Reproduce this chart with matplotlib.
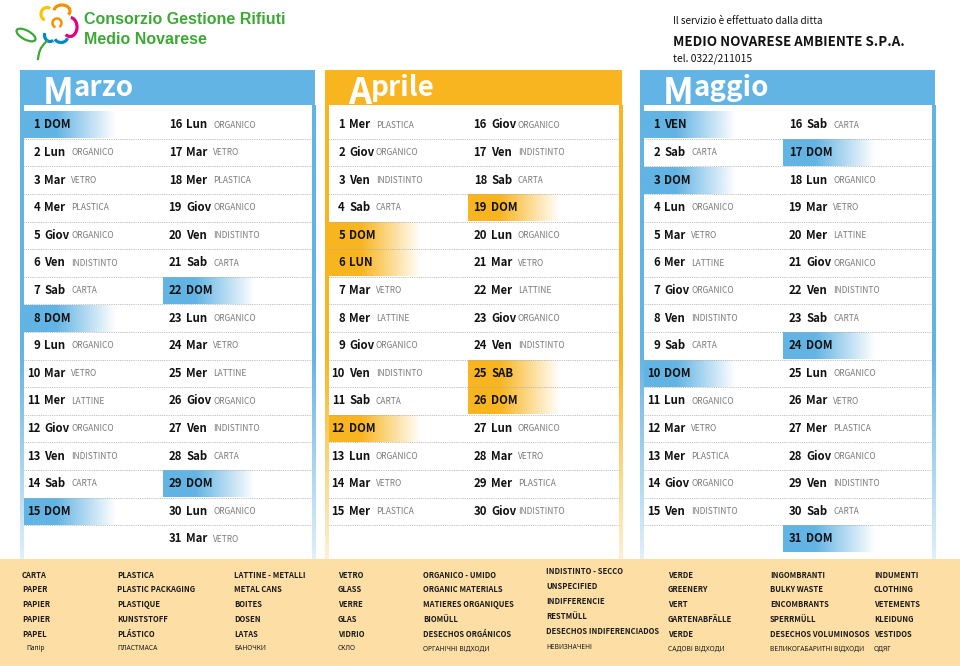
import matplotlib

matplotlib.use("Agg")
import matplotlib.pyplot as plt
import numpy as np
from matplotlib.patches import Rectangle, Arc, Ellipse
from matplotlib.colors import to_rgb

# ---- data ---------------------------------------------------------------
month_names = ["Marzo", "Aprile", "Maggio"]

marzo_days = ["DOM", "Lun", "Mar", "Mer", "Giov", "Ven", "Sab", "DOM", "Lun", "Mar",
              "Mer", "Giov", "Ven", "Sab", "DOM", "Lun", "Mar", "Mer", "Giov", "Ven",
              "Sab", "DOM", "Lun", "Mar", "Mer", "Giov", "Ven", "Sab", "DOM", "Lun", "Mar"]
marzo_waste = ["", "ORGANICO", "VETRO", "PLASTICA", "ORGANICO", "INDISTINTO", "CARTA", "",
               "ORGANICO", "VETRO", "LATTINE", "ORGANICO", "INDISTINTO", "CARTA", "",
               "ORGANICO", "VETRO", "PLASTICA", "ORGANICO", "INDISTINTO", "CARTA", "",
               "ORGANICO", "VETRO", "LATTINE", "ORGANICO", "INDISTINTO", "CARTA", "",
               "ORGANICO", "VETRO"]

aprile_days = ["Mer", "Giov", "Ven", "Sab", "DOM", "LUN", "Mar", "Mer", "Giov", "Ven",
               "Sab", "DOM", "Lun", "Mar", "Mer", "Giov", "Ven", "Sab", "DOM", "Lun",
               "Mar", "Mer", "Giov", "Ven", "SAB", "DOM", "Lun", "Mar", "Mer", "Giov"]
aprile_waste = ["PLASTICA", "ORGANICO", "INDISTINTO", "CARTA", "", "", "VETRO", "LATTINE",
                "ORGANICO", "INDISTINTO", "CARTA", "", "ORGANICO", "VETRO", "PLASTICA",
                "ORGANICO", "INDISTINTO", "CARTA", "", "ORGANICO", "VETRO", "LATTINE",
                "ORGANICO", "INDISTINTO", "", "", "ORGANICO", "VETRO", "PLASTICA",
                "INDISTINTO"]

maggio_days = ["VEN", "Sab", "DOM", "Lun", "Mar", "Mer", "Giov", "Ven", "Sab", "DOM",
               "Lun", "Mar", "Mer", "Giov", "Ven", "Sab", "DOM", "Lun", "Mar", "Mer",
               "Giov", "Ven", "Sab", "DOM", "Lun", "Mar", "Mer", "Giov", "Ven", "Sab", "DOM"]
maggio_waste = ["", "CARTA", "", "ORGANICO", "VETRO", "LATTINE", "ORGANICO", "INDISTINTO",
                "CARTA", "", "ORGANICO", "VETRO", "PLASTICA", "ORGANICO", "INDISTINTO",
                "CARTA", "", "ORGANICO", "VETRO", "LATTINE", "ORGANICO", "INDISTINTO",
                "CARTA", "", "ORGANICO", "VETRO", "PLASTICA", "ORGANICO", "INDISTINTO",
                "CARTA", ""]

legend_columns = [
    ["CARTA", "PAPER", "PAPIER", "PAPIER", "PAPEL"],
    ["PLASTICA", "PLASTIC PACKAGING", "PLASTIQUE", "KUNSTSTOFF", "PLÁSTICO"],
    ["LATTINE - METALLI", "METAL CANS", "BOITES", "DOSEN", "LATAS"],
    ["VETRO", "GLASS", "VERRE", "GLAS", "VIDRIO"],
    ["ORGANICO - UMIDO", "ORGANIC MATERIALS", "MATIERES ORGANIQUES", "BIOMÜLL", "DESECHOS ORGÁNICOS"],
    ["INDISTINTO - SECCO", "UNSPECIFIED", "INDIFFERENCIE", "RESTMÜLL", "DESECHOS INDIFERENCIADOS"],
    ["VERDE", "GREENERY", "VERT", "GARTENABFÄLLE", "VERDE"],
    ["INGOMBRANTI", "BULKY WASTE", "ENCOMBRANTS", "SPERRMÜLL", "DESECHOS VOLUMINOSOS"],
    ["INDUMENTI", "CLOTHING", "VETEMENTS", "KLEIDUNG", "VESTIDOS"],
]
legend_ukr = ["Папір", "ПЛАСТМАСА", "БАНОЧКИ", "СКЛО", "ОРГАНІЧНІ ВІДХОДИ", "НЕВИЗНАЧЕНІ",
              "САДОВІ ВІДХОДИ", "ВЕЛИКОГАБАРИТНІ ВІДХОДИ", "ОДЯГ"]

# ---- styles -------------------------------------------------------------
BLUE = "#62b4e4"
ORANGE = "#f9b520"
PEACH = "#fddfa6"
GREEN = "#3da935"
COND = ["Noto Sans CJK SC", "DejaVu Sans"]
ROUND = ["Noto Sans", "DejaVu Sans"]

fig = plt.figure(figsize=(9.6, 6.66), dpi=100)
ax = fig.add_axes([0, 0, 1, 1])
ax.set_xlim(0, 960)
ax.set_ylim(666, 0)
ax.axis("off")
renderer = fig.canvas.get_renderer()


def hgrad(x0, x1, y0, y1, color, solid=0.35):
    t = np.linspace(0, 1, 200)
    a = np.clip((1 - t) / (1 - solid), 0, 1)
    img = np.zeros((1, 200, 4))
    img[..., :3] = to_rgb(color)
    img[0, :, 3] = a
    ax.imshow(img, extent=(x0, x1, y1, y0), aspect="auto", interpolation="bilinear", zorder=2)


def vgrad(x0, x1, y0, y1, color):
    t = np.linspace(0, 1, 200)
    a = np.clip(1.0 - 0.8 * np.clip((t - 0.55) / 0.45, 0, 1), 0, 1)
    img = np.zeros((200, 1, 4))
    img[..., :3] = to_rgb(color)
    img[:, 0, 3] = a
    ax.imshow(img, extent=(x0, x1, y1, y0), aspect="auto", interpolation="bilinear", zorder=1)


panels = [
    (20, 315, BLUE, marzo_days, marzo_waste),
    (325, 622, ORANGE, aprile_days, aprile_waste),
    (640, 935, BLUE, maggio_days, maggio_waste),
]
top, head_bot, bottom = 70, 105, 559
row0, step = 125, 27.6
side = 3.5

for name, (x0, x1, col, days, waste) in zip(month_names, panels):
    # header band and fading side borders
    ax.add_patch(Rectangle((x0, top), x1 - x0, head_bot - top, color=col, lw=0, zorder=1))
    vgrad(x0, x0 + side, head_bot, bottom, col)
    vgrad(x1 - side, x1, head_bot, bottom, col)
    big = ax.text(x0 + 23, 104, name[0], color="white", fontsize=26, fontweight="bold",
                  family=COND, ha="left", va="baseline", zorder=5)
    bb = big.get_window_extent(renderer).transformed(ax.transData.inverted())
    ax.text(max(bb.x0, bb.x1) - 0.5, 96, name[1:], color="white", fontsize=20,
            fontweight="bold", family=COND, ha="left", va="baseline", zorder=5)

    inner0, inner1 = x0 + side, x1 - side
    split = x0 + 143
    for i in range(15):
        ys = row0 + step * (i + 0.5)
        ax.plot([inner0, inner1], [ys, ys], color="#aaaaaa", lw=0.6, ls=(0, (1, 1.2)), zorder=3)

    for d, (dn, w) in enumerate(zip(days, waste), start=1):
        idx = (d - 1) % 15 if d <= 15 else d - 16
        right = d > 15
        y = row0 + step * idx
        base = x0 + (162 if right else 20)
        if dn.isupper():
            cx0 = split if right else inner0
            hgrad(cx0, cx0 + 92, y - step / 2 + 0.4, y + step / 2 - 0.4, col)
        ax.text(base, y, str(d), fontsize=8.2, fontweight="bold", family=COND,
                ha="right", va="center", color="#111111", zorder=4)
        ax.text(base + 4, y, dn, fontsize=8.2, fontweight="bold", family=COND,
                ha="left", va="center", color="#111111", zorder=4)
        if w:
            ax.text(base + 31, y, w, fontsize=6, family=COND, ha="left", va="center",
                    color="#7a7a7a", zorder=4)

# ---- legend band --------------------------------------------------------
ax.add_patch(Rectangle((0, 559), 960, 107, color=PEACH, lw=0, zorder=1))
leg_x = [22, 117, 234, 338, 423, 546, 668, 770, 874]
for k, (lx, words, ukr) in enumerate(zip(leg_x, legend_columns, legend_ukr)):
    dy = -3 if k == 5 else 0
    for j, wtxt in enumerate(words):
        ax.text(lx, 575 + dy + 14.8 * j, wtxt, fontsize=5.5, fontweight="bold", family=COND,
                ha="left", va="center", color="#1a1a1a", zorder=4)
    ax.text(lx + (4 if k == 0 else 0), 649 + dy / 2, ukr, fontsize=4.8, fontweight="bold",
            family=ROUND, ha="left", va="center", color="#1a1a1a", zorder=4)

# ---- logo and header texts ---------------------------------------------
# Arc angles are given in data space; the y axis is inverted, so visual angle phi -> -phi
def petal(c, w, h, phi1, phi2, color, lw=2.3):
    ax.add_patch(Arc(c, w, h, theta1=-phi2, theta2=-phi1, color=color, lw=lw, zorder=4))


petal((47, 14), 12, 13, 60, 250, "#f7c600")
petal((62, 11), 16, 12, -30, 175, "#f39200")
petal((70, 27), 14, 19, -120, 85, "#e6007e")
petal((50, 35), 11, 13, 160, 300, "#0088cc")
petal((61, 37), 13, 11, 200, 350, "#0088cc")
petal((57, 23), 9, 9, -60, 250, "#f39200", lw=1.8)
ax.add_patch(Ellipse((26, 35), 21, 9, angle=28, fill=False, ec="#3da935", lw=1.6, zorder=4))
ax.plot([38, 39, 41, 44, 47], [59, 53, 48, 44, 41], color="#3da935", lw=1.6, zorder=4)

ax.text(84, 20, "Consorzio Gestione Rifiuti", color=GREEN, fontsize=11.5, fontweight="bold",
        family=["Liberation Sans", "DejaVu Sans"], ha="left", va="center", zorder=4)
ax.text(84, 39, "Medio Novarese", color=GREEN, fontsize=11.5, fontweight="bold",
        family=["Liberation Sans", "DejaVu Sans"], ha="left", va="center", zorder=4)

ax.text(673, 21, "Il servizio è effettuato dalla ditta", fontsize=7.2, family=COND,
        ha="left", va="center", color="#111111", zorder=4)
ax.text(673, 42, "MEDIO NOVARESE AMBIENTE S.P.A.", fontsize=9.6, fontweight="bold",
        family=COND, ha="left", va="center", color="#111111", zorder=4)
ax.text(673, 59, "tel. 0322/211015", fontsize=7.4, family=COND, ha="left", va="center",
        color="#111111", zorder=4)

fig.savefig("out.png", dpi=100)
